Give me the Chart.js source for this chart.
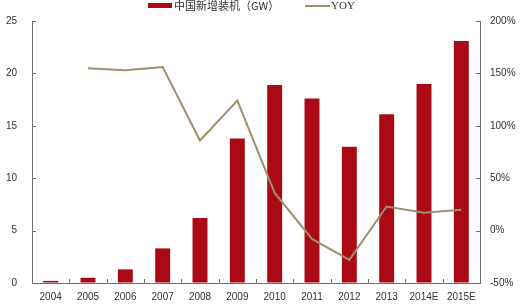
<!DOCTYPE html>
<html><head><meta charset="utf-8">
<style>html,body{margin:0;padding:0;background:#fff}#wrap{width:526px;height:308px}</style>
<script src="https://cdn.jsdelivr.net/npm/chart.js@4/dist/chart.umd.min.js"></script>
</head><body><div id="wrap"><canvas id="c" width="526" height="308"></canvas></div>
<script>
const categories = ['2004','2005','2006','2007','2008','2009','2010','2011','2012','2013','2014E','2015E'];
const newCapacity = [0.2, 0.5, 1.3, 3.3, 6.2, 13.8, 18.9, 17.6, 13.0, 16.1, 19.0, 23.1];
const yoyGrowth = [null, 155, 153, 156, 86, 124, 36, -8, -28, 23, 17, 20];
const capacityLabel = '中国新增装机（GW）';
const yoyLabel = 'YOY';

const barColor = '#AA0A14';
const lineColor = '#A08E70';
const axisColor = '#6e6e6e';
const textColor = '#333333';
const tickFont = {family: '"Liberation Sans", Arial, sans-serif', size: 10};

const decor = {
  id: 'decor',
  afterDraw(chart) {
    const ctx = chart.ctx, a = chart.chartArea;
    const x = chart.scales.x, yl = chart.scales.y, yr = chart.scales.y1;
    ctx.save();
    ctx.strokeStyle = axisColor; ctx.lineWidth = 1;
    ctx.beginPath();
    yl.ticks.forEach((t, i) => { const p = Math.round(yl.getPixelForTick(i)) + 0.5; ctx.moveTo(a.left, p); ctx.lineTo(a.left + 4, p); });
    yr.ticks.forEach((t, i) => { const p = Math.round(yr.getPixelForTick(i)) + 0.5; ctx.moveTo(a.right, p); ctx.lineTo(a.right - 4, p); });
    for (let i = 0; i < x.ticks.length - 1; i++) {
      const p = Math.round((x.getPixelForTick(i) + x.getPixelForTick(i + 1)) / 2) + 0.5;
      ctx.moveTo(p, a.bottom); ctx.lineTo(p, a.bottom - 4);
    }
    ctx.stroke();
    // legend
    const ds = chart.data.datasets;
    ctx.fillStyle = ds[0].backgroundColor;
    ctx.fillRect(148, 3, 24, 5);
    ctx.fillStyle = textColor;
    ctx.textBaseline = 'middle';
    ctx.textAlign = 'left';
    ctx.font = '11px "Noto Sans CJK SC", sans-serif';
    ctx.fillText(ds[0].label, 174, 6);
    ctx.strokeStyle = ds[1].borderColor; ctx.lineWidth = 2;
    ctx.beginPath(); ctx.moveTo(305, 6); ctx.lineTo(330, 6); ctx.stroke();
    ctx.font = '11px "Liberation Serif", serif';
    ctx.fillText(ds[1].label, 331, 6);
    ctx.restore();
  }
};

new Chart(document.getElementById('c'), {
  data: {
    labels: categories,
    datasets: [
      {type: 'bar', label: capacityLabel, data: newCapacity, yAxisID: 'y', backgroundColor: barColor,
       barPercentage: 0.4, categoryPercentage: 1, order: 2},
      {type: 'line', label: yoyLabel, data: yoyGrowth, yAxisID: 'y1', borderColor: lineColor, borderWidth: 2,
       pointRadius: 0, tension: 0, fill: false, spanGaps: false, order: 1}
    ]
  },
  options: {
    responsive: false, animation: false, devicePixelRatio: 1,
    layout: {padding: {top: 21, left: 0, right: 0, bottom: 0}},
    plugins: {legend: {display: false}, tooltip: {enabled: false}},
    scales: {
      x: {
        offset: true,
        grid: {display: true, drawOnChartArea: false, drawTicks: false},
        border: {display: true, color: axisColor, width: 1},
        ticks: {color: textColor, font: tickFont, padding: 8, maxRotation: 0, autoSkip: false},
        afterFit(s) { s.height = 25; }
      },
      y: {
        position: 'left', min: 0, max: 25,
        grid: {display: true, drawOnChartArea: false, drawTicks: false},
        border: {display: true, color: axisColor, width: 1},
        ticks: {stepSize: 5, color: textColor, font: tickFont, padding: 15},
        afterFit(s) { s.width = 32; }
      },
      y1: {
        position: 'right', min: -50, max: 200,
        grid: {display: true, drawOnChartArea: false, drawTicks: false},
        border: {display: true, color: axisColor, width: 1},
        ticks: {stepSize: 50, color: textColor, font: tickFont, padding: 10, callback: v => v + '%'},
        afterFit(s) { s.width = 46; }
      }
    }
  },
  plugins: [decor]
});
</script></body></html>
